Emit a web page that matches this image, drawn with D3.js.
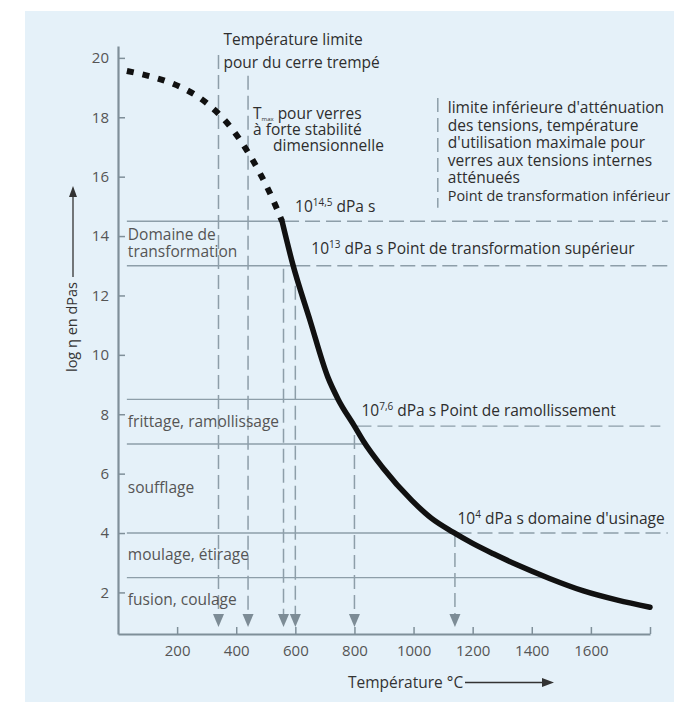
<!DOCTYPE html>
<html>
<head>
<meta charset="utf-8">
<script src="https://cdn.jsdelivr.net/npm/d3@7/dist/d3.min.js"></script>
<style>
  body { margin: 0; background: #ffffff; }
  svg { display: block; font-family: "Open Sans", Lato, sans-serif; }
</style>
</head>
<body>
<svg id="chart" width="674" height="702"></svg>
<script>
// ---- axis ticks ----
const yTicks = [2, 4, 6, 8, 10, 12, 14, 16, 18, 20];
const xTicks = [200, 400, 600, 800, 1000, 1200, 1400, 1600, 1800];
const xTickLabels = ["200", "400", "600", "800", "1000", "1200", "1400", "1600", ""];

// ---- viscosity curve: log10(eta / dPa s) against temperature (°C) ----
// extrapolated low-temperature part (drawn dotted)
const extrapT      = [30, 80, 130, 180, 230, 280, 330, 380, 430, 480, 520, 555];
const extrapLogEta = [19.56, 19.45, 19.32, 19.15, 18.93, 18.63, 18.22, 17.68, 16.98, 16.12, 15.32, 14.5];
// measured part (drawn solid)
const measuredT      = [555, 590, 650, 710, 745, 800, 830, 896, 994, 1060, 1135, 1200, 1270, 1350, 1460, 1575, 1690, 1800];
const measuredLogEta = [14.5, 13.1, 11.15, 9.25, 8.5, 7.6, 7.1, 6.2, 5.1, 4.5, 4.02, 3.65, 3.3, 2.93, 2.47, 2.05, 1.74, 1.5];

// ---- processing ranges ----
const rangeNames = [["Domaine de", "transformation"], ["frittage, ramollissage"], ["soufflage"], ["moulage, étirage"], ["fusion, coulage"]];
const rangeLow   = [13, 7, 4, 2.5, 1];
const rangeHigh  = [14.5, 8.5, 7, 4, 2.5];
const rangeBounds = [14.5, 13, 8.5, 7, 4, 2.5];

// ---- fixed viscosity points ----
const fixedLogEta = [14.5, 13, 7.6, 4];
const fixedExp    = ["14,5", "13", "7,6", "4"];
const fixedText   = [" dPa s", " dPa s Point de transformation supérieur", " dPa s Point de ramollissement", " dPa s domaine d'usinage"];
const fixedLineEnd = [1860, 1860, 1835, 1860];

// ---- temperatures marked with arrows on the temperature axis ----
const arrowT   = [340, 440, 560, 600, 800, 1140];
const arrowTop = [20.1, 19.4, 12.9, 13, 7.3, 4];

const svg = d3.select("#chart");
const W = 674, H = 702;

// light blue panel
svg.append("rect").attr("x", 25).attr("y", 11).attr("width", W - 25).attr("height", H - 11)
  .attr("fill", "#e5f1f9");

const x = d3.scaleLinear().domain([0, 1800]).range([118, 650]);
const y = d3.scaleLinear().domain([0.6, 20.4]).range([634, 46]);

const gridCol = "#8d9ea9";
const axisCol = "#7f8f99";

// temperature at which the curve reaches a given log(eta)
const curveT = extrapT.concat(measuredT.slice(1));
const curveV = extrapLogEta.concat(measuredLogEta.slice(1));
function tAt(v) {
  for (let i = 0; i < curveT.length - 1; i++) {
    const a = curveV[i], b = curveV[i + 1];
    if (v <= a && v >= b) {
      return curveT[i] + (a - v) / (a - b) * (curveT[i + 1] - curveT[i]);
    }
  }
  return curveT[curveT.length - 1];
}

// ---- range boundary lines (solid, up to the curve) ----
svg.append("g").selectAll("line").data(rangeBounds).join("line")
  .attr("x1", x(30)).attr("x2", d => x(tAt(d)))
  .attr("y1", d => y(d)).attr("y2", d => y(d))
  .attr("stroke", gridCol).attr("stroke-width", 1.4);

// ---- fixed point lines (dashed, beyond the curve) ----
svg.append("g").selectAll("line").data(fixedLogEta).join("line")
  .attr("x1", d => x(tAt(d)) + 2).attr("x2", (d, i) => x(fixedLineEnd[i]))
  .attr("y1", d => y(d)).attr("y2", d => y(d))
  .attr("stroke", gridCol).attr("stroke-width", 1.4).attr("stroke-dasharray", "15,6");

// ---- vertical dashed arrows ----
const tipY = y(0.6) - 7;
const arrowG = svg.append("g");
arrowG.selectAll("line").data(arrowT).join("line")
  .attr("x1", d => x(d)).attr("x2", d => x(d))
  .attr("y1", (d, i) => y(arrowTop[i])).attr("y2", tipY - 12)
  .attr("stroke", gridCol).attr("stroke-width", 1.5).attr("stroke-dasharray", "14,6");
arrowG.selectAll("path").data(arrowT).join("path")
  .attr("d", d => `M${x(d) - 5.5},${tipY - 13}L${x(d) + 5.5},${tipY - 13}L${x(d)},${tipY}Z`)
  .attr("fill", "#7d8c96");

// bracket beside the strain point note
svg.append("line")
  .attr("x1", x(1082)).attr("x2", x(1082))
  .attr("y1", y(18.65)).attr("y2", y(14.95))
  .attr("stroke", gridCol).attr("stroke-width", 1.5).attr("stroke-dasharray", "14,6");

// ---- axes ----
const yAxis = d3.axisLeft(y).tickValues(yTicks).tickSizeInner(-7).tickSizeOuter(0).tickPadding(9);
const gy = svg.append("g").attr("transform", `translate(${x(0)},0)`).call(yAxis);
const xAxis = d3.axisBottom(x).tickValues(xTicks).tickFormat((d, i) => xTickLabels[i])
  .tickSizeInner(-7).tickSizeOuter(0).tickPadding(11);
const gx = svg.append("g").attr("transform", `translate(0,${y(0.6)})`).call(xAxis);
[gx, gy].forEach(g => {
  g.select(".domain").attr("stroke", axisCol).attr("stroke-width", 2.2);
  g.selectAll(".tick line").attr("stroke", axisCol).attr("stroke-width", 1.5);
  g.selectAll(".tick text").attr("fill", "#555").attr("font-size", 15)
    .attr("font-family", "'Open Sans', sans-serif");
});

// ---- viscosity curve ----
const line = d3.line().x(d => x(d[0])).y(d => y(d[1])).curve(d3.curveMonotoneX);
svg.append("path").datum(extrapT.map((t, i) => [t, extrapLogEta[i]]))
  .attr("d", line).attr("fill", "none").attr("stroke", "#111")
  .attr("stroke-width", 6).attr("stroke-dasharray", "7,9");
svg.append("path").datum(measuredT.map((t, i) => [t, measuredLogEta[i]]))
  .attr("d", line).attr("fill", "none").attr("stroke", "#111")
  .attr("stroke-width", 5.5).attr("stroke-linecap", "round");

// ---- range labels ----
const rangeG = svg.append("g").attr("font-size", 15.5).attr("fill", "#555");
rangeNames.forEach((names, i) => {
  const mid = (y(rangeLow[i]) + y(rangeHigh[i])) / 2;
  names.forEach((n, j) => {
    rangeG.append("text").attr("x", x(30) + 1)
      .attr("y", mid + 5 + (j - (names.length - 1) / 2) * 17)
      .text(n);
  });
});

// ---- fixed point labels ----
const fixedDx = [13, 18, 7, 3];
const fixedDy = [-9, -12, -10, -9];
const fixedG = svg.append("g").attr("font-size", 15.5).attr("fill", "#2e2e2e");
fixedLogEta.forEach((v, i) => {
  const t = fixedG.append("text").attr("x", x(tAt(v)) + fixedDx[i]).attr("y", y(v) + fixedDy[i]);
  t.append("tspan").text("10");
  t.append("tspan").attr("font-size", 10).attr("dy", -6).text(fixedExp[i]);
  t.append("tspan").attr("dy", 6).text(fixedText[i]);
});

// ---- annotations at the top ----
const noteG = svg.append("g").attr("font-size", 15.5).attr("fill", "#2e2e2e");
const xa = x(arrowT[0]) + 5, xb = x(arrowT[1]) + 5;
noteG.append("text").attr("x", xa).attr("y", 45).text("Température limite");
noteG.append("text").attr("x", xa).attr("y", 68).text("pour du cerre trempé");
const tm = noteG.append("text").attr("x", xb).attr("y", 119);
tm.append("tspan").text("T");
tm.append("tspan").attr("font-size", 6).attr("dy", 2).text("max");
tm.append("tspan").attr("dy", -2).text(" pour verres");
noteG.append("text").attr("x", xb).attr("y", 135).text("à forte stabilité");
noteG.append("text").attr("x", xb + 20).attr("y", 151).text("dimensionnelle");

const rightNote = ["limite inférieure d'atténuation", "des tensions, température",
  "d'utilisation maximale pour", "verres aux tensions internes", "atténueés",
  "Point de transformation inférieur"];
rightNote.forEach((s, i) => {
  noteG.append("text").attr("x", x(1082) + 10).attr("y", 113 + i * 17.6)
    .attr("font-size", i === rightNote.length - 1 ? 14.4 : null)
    .text(s);
});

// ---- axis titles with arrows ----
const titleG = svg.append("g").attr("fill", "#333");
titleG.append("text").attr("transform", "translate(77,327) rotate(-90)")
  .attr("font-size", 14.5).attr("text-anchor", "middle").text("log η en dPas");
titleG.append("line").attr("x1", 73).attr("x2", 73).attr("y1", 277).attr("y2", 196)
  .attr("stroke", "#333").attr("stroke-width", 1.3);
titleG.append("path").attr("d", "M69,197L77,197L73,186Z").attr("fill", "#333");

titleG.append("text").attr("x", 348).attr("y", 688).attr("font-size", 15.5).text("Température °C");
titleG.append("line").attr("x1", 465).attr("x2", 543).attr("y1", 682.5).attr("y2", 682.5)
  .attr("stroke", "#333").attr("stroke-width", 1.3);
titleG.append("path").attr("d", "M542,678L542,687L554,682.5Z").attr("fill", "#333");
</script>
</body>
</html>
